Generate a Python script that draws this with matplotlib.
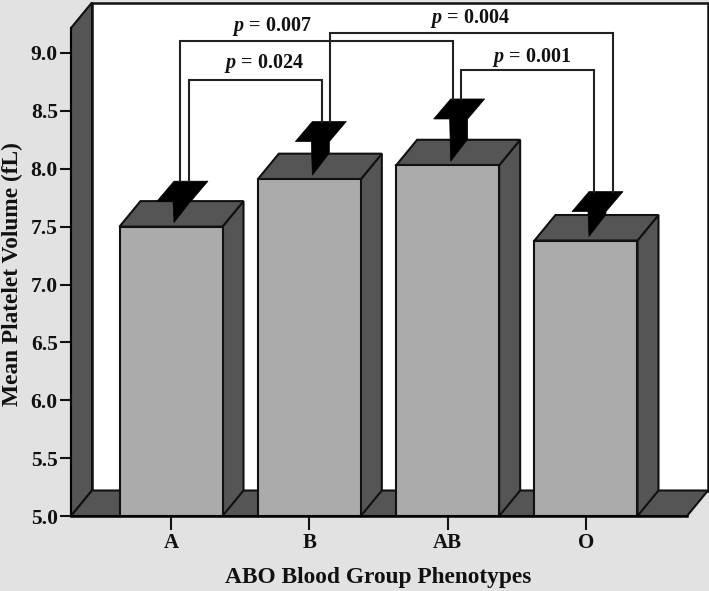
import matplotlib
matplotlib.use("Agg")
import matplotlib.pyplot as plt
from matplotlib.patches import Polygon

plt.rcParams['font.family'] = ['Liberation Serif', 'DejaVu Serif']
plt.rcParams['font.weight'] = 'bold'
plt.rcParams['mathtext.fontset'] = 'custom'
plt.rcParams['mathtext.bfit'] = 'Liberation Serif:italic:bold'
plt.rcParams['mathtext.rm'] = 'Liberation Serif:bold'

# values
groups = ["A", "B", "AB", "O"]
mpv = [7.50, 7.91, 8.03, 7.38]
err_top = [7.72, 8.235, 8.43, 7.63]
y_ticks = [5.0, 5.5, 6.0, 6.5, 7.0, 7.5, 8.0, 8.5, 9.0]
p_labels = ["p = 0.024", "p = 0.007", "p = 0.004", "p = 0.001"]
pairs = [(0, 1), (0, 2), (1, 3), (2, 3)]

W, H = 709, 591
BG = "#e2e2e2"
WALL = "#555555"
FACE = "#ababab"
EDGE = "#111111"

fig = plt.figure(figsize=(W / 100, H / 100), dpi=100, facecolor=BG)
# front plane of the 3D box: x 71-687 px, y 28-516 px
ax = fig.add_axes([71 / W, 1 - 516 / H, 616 / W, 488 / H])
ax.set_facecolor("none")
ax.set_xlim(-100 / 138.33, 516 / 138.33)
ax.set_ylim(5.0, 5.0 + 488 / 115.75)

# data units per pixel
px = 1 / 138.33
py = 1 / 115.75
dx = 21 * px
dy = 25.5 * py
x0, x1 = ax.get_xlim()
y0, y1 = ax.get_ylim()
bw = 103 * px


def poly(pts, fc, z, ec=EDGE, lw=1.5):
    ax.add_patch(Polygon(pts, closed=True, fc=fc, ec=ec, lw=lw, zorder=z,
                         clip_on=False, joinstyle="miter"))


# back wall, left wall, floor
poly([(x0 + dx, y0 + dy), (x1 + dx, y0 + dy), (x1 + dx, y1 + dy), (x0 + dx, y1 + dy)], "white", 1, lw=1.8)
poly([(x0, y0), (x0 + dx, y0 + dy), (x0 + dx, y1 + dy), (x0, y1)], WALL, 2)
poly([(x0, y0), (x1, y0), (x1 + dx, y0 + dy), (x0 + dx, y0 + dy)], WALL, 2)

# bars
for i, v in enumerate(mpv):
    l, r = i - bw / 2, i + bw / 2
    poly([(r, y0), (r + dx, y0 + dy), (r + dx, v + dy), (r, v)], WALL, 3)
    poly([(l, v), (r, v), (r + dx, v + dy), (l + dx, v + dy)], WALL, 3)
    ax.bar(i, v - y0, width=bw, bottom=y0, color=FACE, edgecolor=EDGE, lw=1.5, zorder=4)

# 3D error bar caps, black
for i, (v, e) in enumerate(zip(mpv, err_top)):
    tip = v + 4 * py
    poly([(i + 3 * px, tip), (i + 2 * px, e), (i - 14 * px, e), (i + 3 * px, e + 20 * py),
          (i + 37 * px, e + 20 * py), (i + 20 * px, e), (i + 20 * px, v + 26 * py)],
         "black", 5, ec="black", lw=0.5)

# significance brackets, pixel offsets from the bar centre
left_off = [18, 9, 21, 13]
right_off = [13, 5, 27, 8]
bracket_h = [8.767, 9.10, 9.17, 8.85]
text_x = [264, 272, 470, 532]
text_h = [8.91, 9.225, 9.30, 8.965]
for k, (a, b) in enumerate(pairs):
    xa = a + left_off[k] * px
    xb = b + right_off[k] * px
    ax.plot([xa, xa, xb, xb], [err_top[a] + 20 * py, bracket_h[k], bracket_h[k], err_top[b] + 20 * py],
            color="#222222", lw=1.5, zorder=6, clip_on=False, solid_joinstyle="miter")
    lab = p_labels[k].replace("p", r"$\mathbfit{p}$")
    ax.text(x0 + (text_x[k] - 71) * px, text_h[k], lab, ha="center", va="center",
            fontsize=14.5, fontweight="bold", color="#111111", zorder=7, clip_on=False)

for s in ["top", "right"]:
    ax.spines[s].set_visible(False)
ax.spines["left"].set_linewidth(1.5)
ax.spines["bottom"].set_linewidth(1.8)
ax.spines["left"].set_zorder(8)
ax.spines["bottom"].set_zorder(8)

ax.set_xticks(range(len(groups)))
ax.set_xticklabels(groups)
ax.set_yticks(y_ticks)
ax.set_yticklabels([f"{t:.1f}" for t in y_ticks])
ax.tick_params(axis="y", length=8, width=1.5, pad=1.5, labelsize=15.5, color=EDGE, labelcolor="#111111")
ax.tick_params(axis="x", length=10, width=1.5, pad=2, labelsize=15, color=EDGE, labelcolor="#111111")

fig.text(12 / W, 1 - 274 / H, "Mean Platelet Volume (fL)", rotation=90, ha="center", va="center",
         fontsize=16.8, fontweight="bold", color="#111111")
fig.text(378 / W, 1 - 577 / H, "ABO Blood Group Phenotypes", ha="center", va="center",
         fontsize=16.8, fontweight="bold", color="#111111")

fig.savefig("out.png", dpi=100, facecolor=BG)
